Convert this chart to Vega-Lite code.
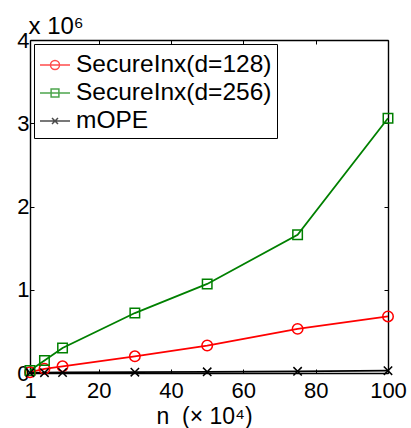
{
  "$schema": "https://vega.github.io/schema/vega-lite/v6.json",
  "width": 358,
  "height": 333,
  "autosize": {"type": "none"},
  "padding": {"left": 30, "top": 40, "right": 23, "bottom": 55},
  "background": "white",
  "config": {
    "view": {"stroke": null},
    "font": "Liberation Sans",
    "axis": {
      "grid": false,
      "domainColor": "black",
      "domainWidth": 1.4,
      "tickColor": "black",
      "tickWidth": 1,
      "tickSize": -4,
      "labelFlush": false,
      "labelColor": "black",
      "titleColor": "black",
      "labelFont": "Liberation Sans",
      "titleFont": "Liberation Sans",
      "labelFontSize": 22,
      "titleFontSize": 22,
      "titleFontWeight": "normal"
    },
    "legend": {
      "orient": "top-left",
      "offset": 4,
      "strokeColor": "black",
      "fillColor": "white",
      "padding": 5,
      "cornerRadius": 0,
      "labelFont": "Liberation Sans",
      "labelFontSize": 24.5,
      "labelColor": "black",
      "labelLimit": 400,
      "labelOffset": 5,
      "symbolSize": 900,
      "symbolStrokeWidth": 1.5,
      "symbolFillColor": "transparent",
      "rowPadding": -2
    }
  },
  "data": {
    "values": [
      {"n": 1, "value": 0.01, "series": "SecureInx(d=128)"},
      {"n": 5, "value": 0.05, "series": "SecureInx(d=128)"},
      {"n": 10, "value": 0.08, "series": "SecureInx(d=128)"},
      {"n": 30, "value": 0.2, "series": "SecureInx(d=128)"},
      {"n": 50, "value": 0.33, "series": "SecureInx(d=128)"},
      {"n": 75, "value": 0.53, "series": "SecureInx(d=128)"},
      {"n": 100, "value": 0.68, "series": "SecureInx(d=128)"},
      {"n": 1, "value": 0.03, "series": "SecureInx(d=256)"},
      {"n": 5, "value": 0.15, "series": "SecureInx(d=256)"},
      {"n": 10, "value": 0.3, "series": "SecureInx(d=256)"},
      {"n": 30, "value": 0.72, "series": "SecureInx(d=256)"},
      {"n": 50, "value": 1.07, "series": "SecureInx(d=256)"},
      {"n": 75, "value": 1.66, "series": "SecureInx(d=256)"},
      {"n": 100, "value": 3.06, "series": "SecureInx(d=256)"},
      {"n": 1, "value": 0.002, "series": "mOPE"},
      {"n": 5, "value": 0.004, "series": "mOPE"},
      {"n": 10, "value": 0.006, "series": "mOPE"},
      {"n": 30, "value": 0.01, "series": "mOPE"},
      {"n": 50, "value": 0.014, "series": "mOPE"},
      {"n": 75, "value": 0.02, "series": "mOPE"},
      {"n": 100, "value": 0.028, "series": "mOPE"}
    ]
  },
  "layer": [
    {
      "mark": {"type": "line", "strokeWidth": 1.8},
      "encoding": {
        "x": {
          "field": "n", "type": "quantitative",
          "scale": {"domain": [1, 100], "nice": false, "zero": false},
          "axis": {
            "orient": "bottom",
            "values": [1, 20, 40, 60, 80, 100],
            "labelBaseline": "alphabetic",
            "labelPadding": 28,
            "title": "n\u00a0\u00a0(× 10⁴)",
            "titleFontSize": 23,
            "titleX": 174,
            "titleY": 50,
            "titleBaseline": "alphabetic"
          }
        },
        "y": {
          "field": "value", "type": "quantitative",
          "scale": {"domain": [0, 4], "nice": false},
          "axis": {
            "orient": "left",
            "values": [0, 1, 2, 3, 4],
            "format": "d",
            "labelPadding": 5,
            "title": "x 10⁶",
            "titleFontSize": 24,
            "titleAngle": 0,
            "titleX": -2,
            "titleY": -7,
            "titleAlign": "left",
            "titleBaseline": "alphabetic"
          }
        },
        "color": {
          "field": "series", "type": "nominal",
          "scale": {"domain": ["SecureInx(d=128)", "SecureInx(d=256)", "mOPE"], "range": ["#ff0000", "#008000", "#000000"]},
          "legend": null
        }
      }
    },
    {
      "mark": {"type": "point", "filled": false, "strokeWidth": 1.5, "opacity": 1},
      "encoding": {
        "x": {
          "field": "n", "type": "quantitative",
          "scale": {"domain": [1, 100], "nice": false, "zero": false},
          "axis": {"orient": "top", "values": [1, 20, 40, 60, 80, 100], "labels": false, "title": null}
        },
        "y": {
          "field": "value", "type": "quantitative",
          "scale": {"domain": [0, 4], "nice": false},
          "axis": {"orient": "right", "values": [0, 1, 2, 3, 4], "labels": false, "title": null}
        },
        "color": {
          "field": "series", "type": "nominal",
          "scale": {"domain": ["SecureInx(d=128)", "SecureInx(d=256)", "mOPE"], "range": ["#ff0000", "#008000", "#000000"]},
          "legend": null
        },
        "shape": {
          "field": "series", "type": "nominal",
          "scale": {"domain": ["SecureInx(d=128)", "SecureInx(d=256)", "mOPE"], "range": ["circle", "square", "M-1,-1L1,1M-1,1L1,-1"]},
          "legend": null
        },
        "size": {
          "field": "series", "type": "nominal",
          "scale": {"domain": ["SecureInx(d=128)", "SecureInx(d=256)", "mOPE"], "range": [110, 70, 49]},
          "legend": null
        }
      }
    },
    {
      "transform": [{"filter": "datum.n < 0"}],
      "mark": {"type": "point", "filled": false, "strokeWidth": 1.5},
      "encoding": {
        "x": {"field": "n", "type": "quantitative", "scale": {"domain": [1, 100], "nice": false, "zero": false}, "axis": null},
        "y": {"field": "value", "type": "quantitative", "scale": {"domain": [0, 4], "nice": false}, "axis": null},
        "color": {
          "field": "series", "type": "nominal",
          "scale": {"domain": ["SecureInx(d=128)", "SecureInx(d=256)", "mOPE"], "range": ["#ff0000", "#008000", "#000000"]},
          "legend": {"title": null}
        },
        "shape": {
          "field": "series", "type": "nominal",
          "scale": {
            "domain": ["SecureInx(d=128)", "SecureInx(d=256)", "mOPE"],
            "range": [
              "M-1,0H1M0.3,0A0.3,0.3 0 1,1 -0.3,0A0.3,0.3 0 1,1 0.3,0",
              "M-1,0H1M-0.26,-0.26H0.26V0.26H-0.26Z",
              "M-1,0H1M-0.2,-0.2L0.2,0.2M-0.2,0.2L0.2,-0.2"
            ]
          },
          "legend": {"title": null}
        }
      }
    }
  ],
  "resolve": {
    "scale": {"color": "independent", "shape": "independent", "size": "independent"},
    "axis": {"x": "independent", "y": "independent"}
  }
}
